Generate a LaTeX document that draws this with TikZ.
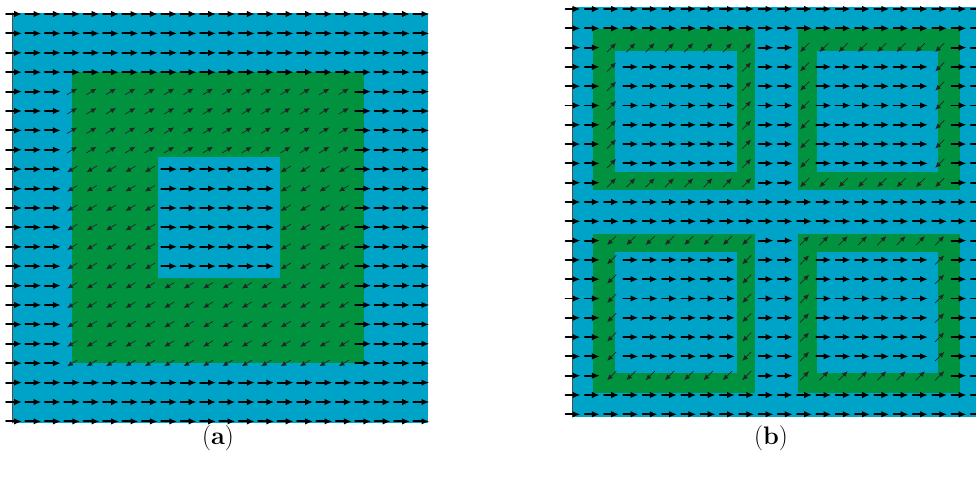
\documentclass[tikz,border=0pt]{standalone}
\usetikzlibrary{arrows.meta}
\definecolor{fieldblue}{RGB}{0,163,200}
\definecolor{fieldgreen}{RGB}{0,146,62}
\tikzset{
    flat/.style={
        -{Latex[length=5.6pt,width=4.6pt]}, line width=1.3pt, black
    },
    tilt/.style={
        -{Latex[length=4pt,width=3.6pt]}, line width=0.5pt, black!85
    },
    axisline/.style={
        line width=0.6pt, black!70
    },
    sublab/.style={
        font=\fontsize{18}{21}\selectfont
    }
}

\begin{document}
\begin{tikzpicture}[x=0.025cm,y=-0.025cm,line cap=round,line join=round]
    \useasboundingbox (0,0) rectangle (976,479);

% --- panel (a) ---
    \fill[fieldblue]  (12,13)   rectangle (428,423);
    \fill[fieldgreen] (72,72)   rectangle (364,363);
    \fill[fieldblue]  (158,157) rectangle (280,278);
    \draw[axisline] (12,13) -- (12,423);

% arrow field of (a)
    \foreach \i in {0,...,21}{
      \foreach \j in {0,...,21}{
        \pgfmathsetmacro\px{14+19.4*\i}
        \pgfmathsetmacro\py{14+19.4*\j}
        \pgfmathtruncatemacro\ingreen{(\i>=3)*(\i<=17)*(\j>=4)*(\j<=18)*(1-(\i>=8)*(\i<=13)*(\j>=8)*(\j<=13))}
        \ifnum\ingreen=1
          \ifnum\j<8
            \draw[tilt] (\px-5,\py+3) -- (\px+5,\py-3);
          \else
            \draw[tilt] (\px+5,\py-3) -- (\px-5,\py+3);
          \fi
        \else
          \draw[flat] (\px-8,\py) -- (\px+8,\py);
        \fi
      }
    }

% --- panel (b) ---
    \fill[fieldblue] (572,7) rectangle (976,417);
    \foreach \xa/\xb/\xc/\xd in {593/755/615/737,798/960/817/938}{
      \foreach \ya/\yb/\yc/\yd in {29/190/51/172,234/393/252/373}{
        \fill[fieldgreen] (\xa,\ya) rectangle (\xb,\yb);
        \fill[fieldblue]  (\xc,\yc) rectangle (\xd,\yd);
      }
    }
    \draw[axisline] (572,7) -- (572,417);

% arrow field of (b)
    \foreach \i in {0,...,21}{
      \foreach \j in {0,...,21}{
        \pgfmathsetmacro\px{573+19.3*\i}
        \pgfmathsetmacro\py{9+19.3*\j}
        \pgfmathtruncatemacro\u{mod(\i+8,10)}
        \pgfmathtruncatemacro\v{mod(\j+8,10)}
        \pgfmathtruncatemacro\ingreen{(\u<=7)*(\v<=7)*(((\u==0)+(\u==7)+(\v==0)+(\v==7))>0)}
        \pgfmathtruncatemacro\upright{(\i<10)==(\j<10)}
        \ifnum\ingreen=1
          \ifnum\upright=1
            \draw[tilt] (\px-4.5,\py+4.5) -- (\px+4.5,\py-4.5);
          \else
            \draw[tilt] (\px+4.5,\py-4.5) -- (\px-4.5,\py+4.5);
          \fi
        \else
          \draw[flat] (\px-7.5,\py) -- (\px+7.5,\py);
        \fi
      }
    }

% captions
    \node[sublab] (capA) at (218,438) {(\textbf{a})};
    \node[sublab] (capB) at (771,438) {(\textbf{b})};

\end{tikzpicture}
\end{document}
